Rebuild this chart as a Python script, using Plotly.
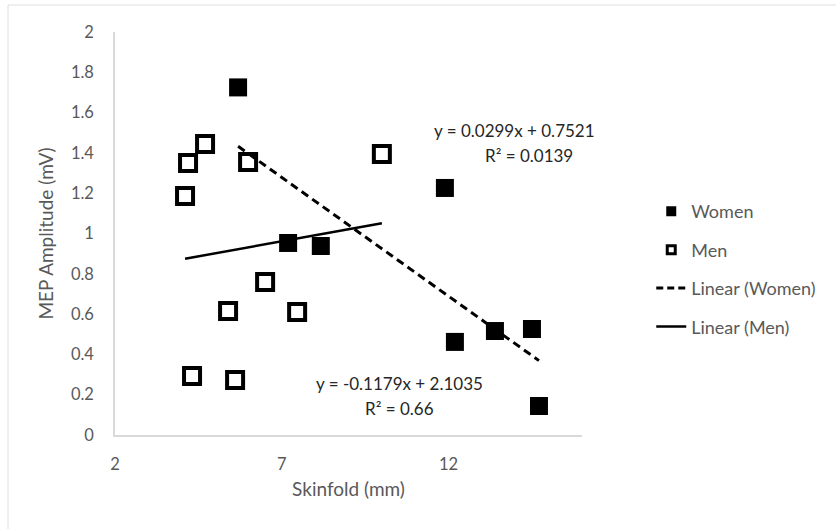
import plotly.graph_objects as go

# Data
women_x = [5.69, 7.19, 8.17, 11.89, 12.19, 13.39, 14.50, 14.71]
women_y = [1.725, 0.953, 0.938, 1.226, 0.462, 0.516, 0.526, 0.144]
men_x = [4.10, 4.19, 4.70, 5.99, 10.00, 4.31, 5.60, 5.39, 6.50, 7.46]
men_y = [1.186, 1.350, 1.444, 1.355, 1.394, 0.293, 0.273, 0.615, 0.759, 0.610]

# Trendline equations as printed on the chart
women_slope, women_icpt = -0.1179, 2.1035
men_slope, men_icpt = 0.0299, 0.7521

eq_labels = ["y = 0.0299x + 0.7521", "R\u00b2 = 0.0139",
             "y = -0.1179x + 2.1035", "R\u00b2 = 0.66"]
series_names = ["Women", "Men", "Linear (Women)", "Linear (Men)"]

FONT = "Lato, 'Open Sans', sans-serif"
GREY = "#595959"
DASH = "8px,5px"

wx = [min(women_x), max(women_x)]
mx = [min(men_x), max(men_x)]

women_marker = dict(symbol="square", size=18, color="black", line=dict(width=0))
men_marker = dict(symbol="square", size=16, color="white", line=dict(width=4, color="black"))

fig = go.Figure()
# data traces (legend handled by legend-only traces below)
fig.add_trace(go.Scatter(x=women_x, y=women_y, mode="markers", name=series_names[0],
                         showlegend=False, marker=women_marker))
fig.add_trace(go.Scatter(x=men_x, y=men_y, mode="markers", name=series_names[1],
                         showlegend=False, marker=men_marker))
fig.add_trace(go.Scatter(x=wx, y=[women_slope * v + women_icpt for v in wx],
                         mode="lines", name=series_names[2], showlegend=False,
                         line=dict(color="black", width=3, dash=DASH)))
fig.add_trace(go.Scatter(x=mx, y=[men_slope * v + men_icpt for v in mx],
                         mode="lines", name=series_names[3], showlegend=False,
                         line=dict(color="black", width=2.5)))

# legend entries with smaller symbols, as in the reference
fig.add_trace(go.Scatter(x=[None], y=[None], mode="markers", name=series_names[0],
                         legendgroup="a",
                         marker=dict(symbol="square", size=10, color="black", line=dict(width=0))))
fig.add_trace(go.Scatter(x=[None], y=[None], mode="markers", name=series_names[1],
                         legendgroup="b",
                         marker=dict(symbol="square", size=8, color="white",
                                     line=dict(width=3, color="black"))))
fig.add_trace(go.Scatter(x=[None], y=[None], mode="lines", name=series_names[2],
                         legendgroup="c",
                         line=dict(color="black", width=3, dash="7px,4px")))
fig.add_trace(go.Scatter(x=[None], y=[None], mode="lines", name=series_names[3],
                         legendgroup="d", line=dict(color="black", width=2.5)))

ann_font = dict(family=FONT, size=17, color="#262626")
fig.add_annotation(x=13.99, y=1.509, text=eq_labels[0], showarrow=False, font=ann_font)
fig.add_annotation(x=14.42, y=1.385, text=eq_labels[1], showarrow=False, font=ann_font)
fig.add_annotation(x=10.54, y=0.258, text=eq_labels[2], showarrow=False, font=ann_font)
fig.add_annotation(x=10.54, y=0.134, text=eq_labels[3], showarrow=False, font=ann_font)

fig.update_layout(
    width=836, height=529,
    margin=dict(l=115, r=254, t=32, b=94),
    paper_bgcolor="white", plot_bgcolor="white",
    font=dict(family=FONT, color=GREY, size=16.5),
    showlegend=True,
    legend=dict(xref="container", yref="container", x=0.779, y=0.635,
                xanchor="left", yanchor="top",
                font=dict(family=FONT, size=18, color=GREY),
                traceorder="grouped", tracegroupgap=12,
                bgcolor="rgba(0,0,0,0)"),
    xaxis=dict(range=[2, 16], tick0=2, dtick=5, showgrid=False, zeroline=False,
               showline=True, linecolor="#d9d9d9", linewidth=1.5,
               ticks="", ticklabelstandoff=13,
               title=dict(text="Skinfold (mm)", font=dict(size=19, color=GREY), standoff=10),
               tickfont=dict(size=16.5, color=GREY)),
    yaxis=dict(range=[0, 2], dtick=0.2, showgrid=False, zeroline=False,
               showline=True, linecolor="#d9d9d9", linewidth=1.5,
               ticks="", ticklabelstandoff=16,
               title=dict(text="MEP Amplitude (mV)", font=dict(size=19, color=GREY), standoff=12),
               tickfont=dict(size=16.5, color=GREY)),
    shapes=[dict(type="rect", xref="paper", yref="paper",
                 x0=(8 - 115) / 467, x1=(845 - 115) / 467,
                 y0=(94 - 540) / 403, y1=(529 - 5 - 94) / 403,
                 line=dict(color="#e0e0e0", width=1), layer="below")],
)

fig.write_html("out.html")
